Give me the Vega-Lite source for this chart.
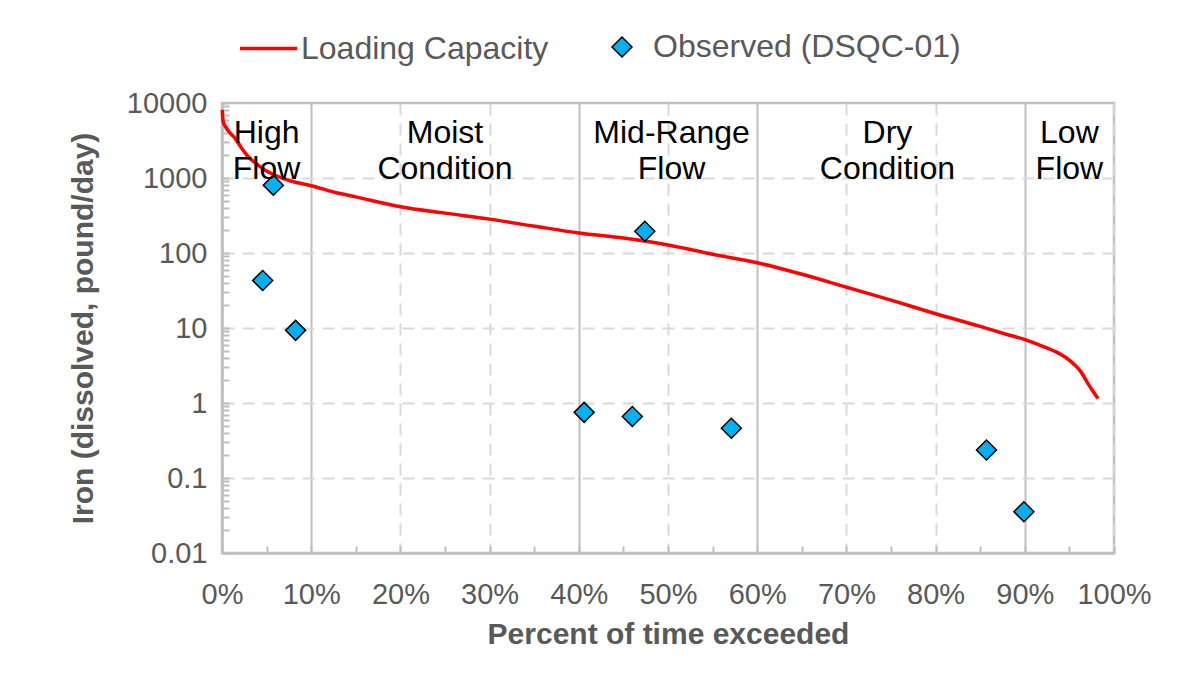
{
  "$schema": "https://vega.github.io/schema/vega-lite/v6.json",
  "width": 892,
  "height": 450,
  "autosize": {"type": "none"},
  "padding": {"left": 222, "top": 103, "right": 63, "bottom": 130},
  "background": "white",
  "config": {
    "font": "Liberation Sans",
    "view": {"stroke": "#BFBFBF", "strokeWidth": 2.5}
  },
  "datasets": {
    "curve": [
      {"pct": 0.03, "load": 8100, "curve": "Loading Capacity"},
      {"pct": 0.12, "load": 5700, "curve": "Loading Capacity"},
      {"pct": 0.4, "load": 4800, "curve": "Loading Capacity"},
      {"pct": 0.8, "load": 4100, "curve": "Loading Capacity"},
      {"pct": 1.46, "load": 3380, "curve": "Loading Capacity"},
      {"pct": 2.2, "load": 2500, "curve": "Loading Capacity"},
      {"pct": 2.95, "load": 1920, "curve": "Loading Capacity"},
      {"pct": 4, "load": 1500, "curve": "Loading Capacity"},
      {"pct": 4.8, "load": 1280, "curve": "Loading Capacity"},
      {"pct": 6, "load": 1080, "curve": "Loading Capacity"},
      {"pct": 6.8, "load": 990, "curve": "Loading Capacity"},
      {"pct": 8, "load": 890, "curve": "Loading Capacity"},
      {"pct": 10, "load": 790, "curve": "Loading Capacity"},
      {"pct": 12.5, "load": 650, "curve": "Loading Capacity"},
      {"pct": 15, "load": 560, "curve": "Loading Capacity"},
      {"pct": 20, "load": 414, "curve": "Loading Capacity"},
      {"pct": 25, "load": 340, "curve": "Loading Capacity"},
      {"pct": 30, "load": 283, "curve": "Loading Capacity"},
      {"pct": 35, "load": 228, "curve": "Loading Capacity"},
      {"pct": 40, "load": 185, "curve": "Loading Capacity"},
      {"pct": 45, "load": 158, "curve": "Loading Capacity"},
      {"pct": 50, "load": 128, "curve": "Loading Capacity"},
      {"pct": 55, "load": 96, "curve": "Loading Capacity"},
      {"pct": 60, "load": 74, "curve": "Loading Capacity"},
      {"pct": 65, "load": 52, "curve": "Loading Capacity"},
      {"pct": 70, "load": 35, "curve": "Loading Capacity"},
      {"pct": 75, "load": 23.5, "curve": "Loading Capacity"},
      {"pct": 80, "load": 15.5, "curve": "Loading Capacity"},
      {"pct": 85, "load": 10.5, "curve": "Loading Capacity"},
      {"pct": 88, "load": 8.2, "curve": "Loading Capacity"},
      {"pct": 90, "load": 7, "curve": "Loading Capacity"},
      {"pct": 92, "load": 5.7, "curve": "Loading Capacity"},
      {"pct": 93.5, "load": 4.8, "curve": "Loading Capacity"},
      {"pct": 94.5, "load": 4.1, "curve": "Loading Capacity"},
      {"pct": 95.5, "load": 3.3, "curve": "Loading Capacity"},
      {"pct": 96.3, "load": 2.6, "curve": "Loading Capacity"},
      {"pct": 97.1, "load": 1.8, "curve": "Loading Capacity"},
      {"pct": 97.7, "load": 1.4, "curve": "Loading Capacity"},
      {"pct": 98.2, "load": 1.15, "curve": "Loading Capacity"}
    ],
    "observed": [
      {"pct": 4.56, "load": 43, "obs": "Observed (DSQC-01)"},
      {"pct": 5.75, "load": 800, "obs": "Observed (DSQC-01)"},
      {"pct": 8.25, "load": 9.3, "obs": "Observed (DSQC-01)"},
      {"pct": 40.6, "load": 0.75, "obs": "Observed (DSQC-01)"},
      {"pct": 46.0, "load": 0.66, "obs": "Observed (DSQC-01)"},
      {"pct": 47.4, "load": 195, "obs": "Observed (DSQC-01)"},
      {"pct": 57.1, "load": 0.46, "obs": "Observed (DSQC-01)"},
      {"pct": 85.7, "load": 0.236, "obs": "Observed (DSQC-01)"},
      {"pct": 89.9, "load": 0.0355, "obs": "Observed (DSQC-01)"}
    ],
    "zones": [
      {"pct": 5, "label": "High\nFlow"},
      {"pct": 25, "label": "Moist\nCondition"},
      {"pct": 50.4, "label": "Mid-Range\nFlow"},
      {"pct": 74.6, "label": "Dry\nCondition"},
      {"pct": 95, "label": "Low\nFlow"}
    ]
  },
  "layer": [
    {
      "data": {"name": "curve"},
      "mark": {"type": "line", "strokeWidth": 3.5, "interpolate": "monotone"},
      "encoding": {
        "x": {
          "field": "pct",
          "type": "quantitative",
          "scale": {"domain": [0, 100], "nice": false, "zero": false},
          "axis": {
            "title": "Percent of time exceeded",
            "values": [0, 5, 10, 15, 20, 25, 30, 35, 40, 45, 50, 55, 60, 65, 70, 75, 80, 85, 90, 95, 100],
            "labelExpr": "datum.value % 10 == 0 ? datum.value + '%' : ''",
            "labelOverlap": false,
            "labelFlush": false,
            "labelBound": false,
            "labelFontSize": 29,
            "labelColor": "#595959",
            "labelPadding": 34,
            "domainColor": "#BFBFBF",
            "domainWidth": 2.5,
            "tickSize": -7,
            "tickColor": "#BFBFBF",
            "tickWidth": 2,
            "grid": true,
            "gridWidth": 2,
            "gridOpacity": {"condition": {"test": "datum.value % 10 == 0", "value": 1}, "value": 0},
            "gridDash": {"condition": {"test": "datum.value == 10 || datum.value == 40 || datum.value == 60 || datum.value == 90", "value": []}, "value": [12, 8]},
            "gridColor": {"condition": {"test": "datum.value == 10 || datum.value == 40 || datum.value == 60 || datum.value == 90", "value": "#BFBFBF"}, "value": "#D9D9D9"},
            "titleFontSize": 30,
            "titleFontWeight": "bold",
            "titleColor": "#595959",
            "titlePadding": 10
          }
        },
        "y": {
          "field": "load",
          "type": "quantitative",
          "scale": {"type": "log", "domain": [0.01, 10000], "nice": false},
          "axis": {
            "title": "Iron (dissolved, pound/day)",
            "values": [0.01, 0.02, 0.03, 0.04, 0.05, 0.06, 0.07, 0.08, 0.09, 0.1, 0.2, 0.3, 0.4, 0.5, 0.6, 0.7, 0.8, 0.9, 1, 2, 3, 4, 5, 6, 7, 8, 9, 10, 20, 30, 40, 50, 60, 70, 80, 90, 100, 200, 300, 400, 500, 600, 700, 800, 900, 1000, 2000, 3000, 4000, 5000, 6000, 7000, 8000, 9000, 10000],
            "labelExpr": "indexof([0.01, 0.1, 1, 10, 100, 1000, 10000], datum.value) >= 0 ? '' + datum.value : ''",
            "labelOverlap": false,
            "labelFlush": false,
            "labelBound": false,
            "labelFontSize": 29,
            "labelColor": "#595959",
            "labelPadding": 22,
            "domainColor": "#BFBFBF",
            "domainWidth": 2.5,
            "tickSize": -7,
            "tickColor": "#BFBFBF",
            "tickWidth": 2,
            "grid": true,
            "gridWidth": 2,
            "gridColor": "#D9D9D9",
            "gridDash": [12, 8],
            "gridOpacity": {"condition": {"test": "indexof([0.1, 1, 10, 100, 1000], datum.value) >= 0", "value": 1}, "value": 0},
            "titleFontSize": 30,
            "titleFontWeight": "bold",
            "titleColor": "#595959",
            "titlePadding": 28
          }
        },
        "color": {
          "field": "curve",
          "type": "nominal",
          "scale": {"domain": ["Loading Capacity"], "range": ["#FF0000"]},
          "legend": {
            "title": null,
            "orient": "none",
            "legendX": 16,
            "legendY": -85,
            "padding": 0,
            "symbolType": "stroke",
            "symbolSize": 3249,
            "symbolStrokeWidth": 3.5,
            "labelFontSize": 32,
            "labelColor": "#595959",
            "labelOffset": 2,
            "labelLimit": 400
          }
        }
      }
    },
    {
      "data": {"name": "observed"},
      "mark": {"type": "point", "shape": "diamond", "filled": true, "fill": "#00B0F0", "fillOpacity": 1, "strokeWidth": 1.5, "size": 400, "opacity": 1},
      "encoding": {
        "x": {"field": "pct", "type": "quantitative"},
        "y": {"field": "load", "type": "quantitative"},
        "stroke": {
          "field": "obs",
          "type": "nominal",
          "scale": {"domain": ["Observed (DSQC-01)"], "range": ["#000000"]},
          "legend": {
            "title": null,
            "orient": "none",
            "legendX": 384,
            "legendY": -72,
            "padding": 0,
            "symbolType": "diamond",
            "symbolFillColor": "#00B0F0",
            "symbolStrokeWidth": 1.5,
            "symbolSize": 400,
            "symbolOpacity": 1,
            "labelFontSize": 32,
            "labelColor": "#595959",
            "labelOffset": 15,
            "labelLimit": 400
          }
        }
      }
    },
    {
      "data": {"name": "zones"},
      "mark": {"type": "text", "lineBreak": "\n", "baseline": "top", "align": "center", "dy": 15, "fontSize": 32, "lineHeight": 36, "color": "black"},
      "encoding": {
        "x": {"field": "pct", "type": "quantitative"},
        "y": {"datum": 10000},
        "text": {"field": "label"}
      }
    }
  ]
}
